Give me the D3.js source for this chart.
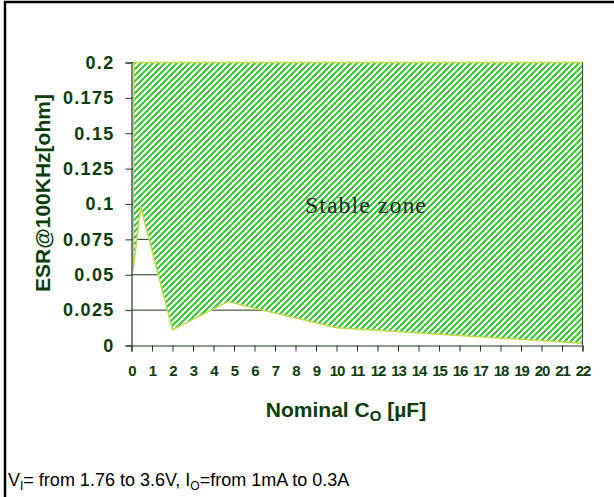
<!DOCTYPE html>
<html>
<head>
<meta charset="utf-8">
<script src="https://cdn.jsdelivr.net/npm/d3@7"></script>
<style>
  body { margin: 0; background: #fff; }
  svg { display: block; }
</style>
</head>
<body>
<div id="chart"></div>
<script>
(function () {

    // boundary of the stable zone (Co in uF, ESR in ohm)
    var capValues = [0.12, 0.08, 0.45, 2, 4.7, 10, 22, 22];
    var esrValues = [0.2, 0.053, 0.098, 0.011, 0.031, 0.0125, 0.0016, 0.2];

    var yTicks = [0, 0.025, 0.05, 0.075, 0.1, 0.125, 0.15, 0.175, 0.2];
    var yTickLabels = ['0', '0.025', '0.05', '0.075', '0.1', '0.125', '0.15', '0.175', '0.2'];
    var xTicks = d3.range(0, 23);

    var w = 614;
    var h = 497;
    var axisColor = '#1f3a1f';
    var textColor = '#0b3d0b';
    var sans = "'Liberation Sans', Arial, sans-serif";

    var svg = d3.select('#chart')
        .append('svg')
            .attr('width', w)
            .attr('height', h);

    var x = d3.scaleLinear().domain([0, 22]).range([131.5, 582.5]);
    var y = d3.scaleLinear().domain([0, 0.2]).range([345.5, 62.5]);

    // hatch pattern
    var pattern = svg.append('defs').append('pattern')
        .attr('id', 'hatch')
        .attr('patternUnits', 'userSpaceOnUse')
        .attr('width', 6)
        .attr('height', 6);
    pattern.append('rect').attr('width', 6).attr('height', 6).attr('fill', '#fff');
    pattern.append('path')
        .attr('d', 'M0,6 L6,0 M-1.5,1.5 L1.5,-1.5 M4.5,7.5 L7.5,4.5')
        .attr('stroke', '#33c833')
        .attr('stroke-width', 2.1);

    // outer frame (left and top only)
    svg.append('path')
        .attr('d', 'M5,497 L5,2 L614,2')
        .attr('fill', 'none')
        .attr('stroke', '#000')
        .attr('stroke-width', 2.5);

    // grid lines under the zone
    svg.append('g').selectAll('line')
        .data(yTicks.slice(1))
        .enter()
        .append('line')
            .attr('x1', x(0))
            .attr('x2', x(22))
            .attr('y1', function (d) { return y(d); })
            .attr('y2', function (d) { return y(d); })
            .attr('stroke', axisColor)
            .attr('stroke-width', 1);

    // stable zone
    var pts = capValues.map(function (c, i) { return [c, esrValues[i]]; });
    var line = d3.line()
        .x(function (d) { return x(d[0]); })
        .y(function (d) { return y(d[1]); });

    svg.append('path')
        .attr('d', line(pts) + 'Z')
        .attr('fill', 'url(#hatch)')
        .attr('stroke', '#c4d84c')
        .attr('stroke-width', 1.5)
        .attr('stroke-linejoin', 'round');

    // right border
    svg.append('line')
        .attr('x1', x(22)).attr('x2', x(22))
        .attr('y1', y(0.2)).attr('y2', y(0))
        .attr('stroke', '#3a4a3a')
        .attr('stroke-width', 1);

    // axes
    var yAxis = d3.axisLeft(y)
        .tickValues(yTicks)
        .tickSize(6)
        .tickPadding(11)
        .tickFormat(function (d, i) { return yTickLabels[i]; });

    var gy = svg.append('g')
        .attr('transform', 'translate(' + x(0) + ',0)')
        .call(yAxis);

    var xAxis = d3.axisBottom(x)
        .tickValues(xTicks)
        .tickSize(6)
        .tickPadding(14)
        .tickFormat(d3.format('d'));

    var gx = svg.append('g')
        .attr('transform', 'translate(0,' + y(0) + ')')
        .call(xAxis);

    [gx, gy].forEach(function (g) {
        g.attr('font-family', null).attr('font-size', null);
        g.select('.domain').attr('stroke', axisColor).attr('stroke-width', 1.2);
        g.selectAll('.tick line').attr('stroke', axisColor).attr('stroke-width', 1);
        g.selectAll('.tick text')
            .attr('fill', textColor)
            .style('font-family', sans)
            .style('font-weight', 'bold');
    });
    gy.selectAll('.tick text').style('font-size', '18px').attr('letter-spacing', 1.3);
    gx.selectAll('.tick text').style('font-size', '15px').attr('letter-spacing', -1);

    // labels
    svg.append('text')
        .attr('transform', 'translate(50,193) rotate(-90)')
        .attr('text-anchor', 'middle')
        .attr('fill', textColor)
        .style('font-family', sans)
        .style('font-weight', 'bold')
        .style('font-size', '21px')
        .text('ESR@100KHz[ohm]');

    var xt = svg.append('text')
        .attr('x', 346)
        .attr('y', 417)
        .attr('text-anchor', 'middle')
        .attr('fill', textColor)
        .style('font-family', sans)
        .style('font-weight', 'bold')
        .style('font-size', '21px');
    xt.append('tspan').text('Nominal C');
    xt.append('tspan').style('font-size', '15px').attr('dy', 4).text('O');
    xt.append('tspan').attr('dy', -4).text(' [\u00b5F]');

    svg.append('text')
        .attr('x', 305)
        .attr('y', 213)
        .attr('fill', '#2a2a2a')
        .style('font-family', "'Liberation Serif', 'Times New Roman', serif")
        .style('font-size', '24px')
        .attr('textLength', 121)
        .text('Stable zone');

    var note = svg.append('text')
        .attr('x', 8)
        .attr('y', 486)
        .attr('fill', '#000')
        .style('font-family', sans)
        .style('font-size', '18px');
    note.append('tspan').text('V');
    note.append('tspan').style('font-size', '12px').attr('dy', 4).text('I');
    note.append('tspan').attr('dy', -4).text('= from 1.76 to 3.6V, I');
    note.append('tspan').style('font-size', '12px').attr('dy', 4).text('O');
    note.append('tspan').attr('dy', -4).text('=from 1mA to 0.3A');

})();
</script>
</body>
</html>
